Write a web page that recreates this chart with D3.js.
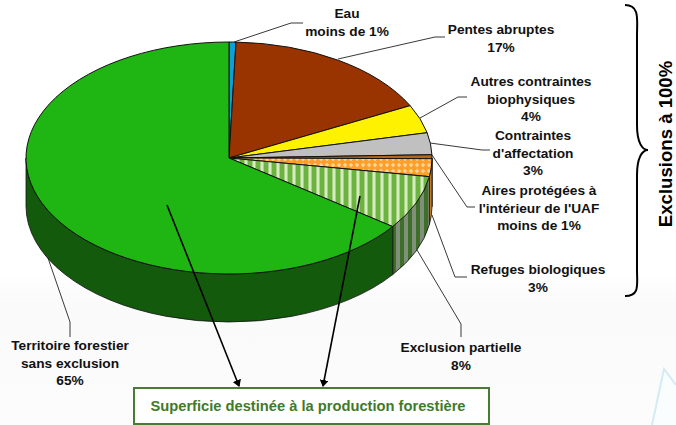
<!DOCTYPE html>
<html><head><meta charset="utf-8">
<script src="https://cdnjs.cloudflare.com/ajax/libs/d3/7.8.5/d3.min.js"></script>
<style>html,body{margin:0;padding:0;background:#fff}svg{display:block}text{font-family:"Liberation Sans",Arial,sans-serif;font-weight:700;fill:#111;font-size:13.7px;text-anchor:middle}</style>
</head><body><div id="c"></div>
<script>
const categories=["Eau","Pentes abruptes","Autres contraintes biophysiques","Contraintes d'affectation","Aires protégées à l'intérieur de l'UAF","Refuges biologiques","Exclusion partielle","Territoire forestier sans exclusion"];
const values=[0.55,17.0,3.95,3.05,0.55,2.47,7.5,64.93];
const fills=["#0f9ed5","#993300","#fff200","#c0c0c0","#b5651d","url(#cross)","url(#stripe)","#1fb512"];
const wallFills=["#0a6a8f","#5c1f00","#99910a","#737373","#7a4010","#c87a20","url(#stripeDark)","#135a0c"];
const labels=[
 {t:["Eau","moins de 1%"],x:347,y:18},
 {t:["Pentes abruptes","17%"],x:501,y:34},
 {t:["Autres contraintes","biophysiques","4%"],x:531,y:86},
 {t:["Contraintes","d'affectation","3%"],x:533,y:140},
 {t:["Aires protégées à","l'intérieur de l'UAF","moins de 1%"],x:539,y:195},
 {t:["Refuges biologiques","3%"],x:538,y:274},
 {t:["Exclusion partielle","8%"],x:461,y:352},
 {t:["Territoire forestier","sans exclusion","65%"],x:70,y:350}];
const leaders=[
 [[234,42],[291,23],[303,23]],
 [[338,59],[435,37],[445,37]],
 [[420,118],[458,97],[467,97]],
 [[430,143],[482,150],[490,150]],
 [[432,155],[467,207],[475,207]],
 [[432,215],[455,277],[467,277]],
 [[417,250],[461,324],[461,337]],
 [[48,258],[70,322],[70,337]]];
const W=676,H=425,cx=229,cy=158,rx=203,ry=116,depth=48;
const svg=d3.select("#c").append("svg").attr("width",W).attr("height",H);
const defs=svg.append("defs");
const bg=defs.append("linearGradient").attr("id","bg").attr("x1",0).attr("x2",0).attr("y1",0).attr("y2",1);
bg.append("stop").attr("offset",0).attr("stop-color","#ffffff");
bg.append("stop").attr("offset",.64).attr("stop-color","#ffffff");
bg.append("stop").attr("offset",.72).attr("stop-color","#fafafa");
bg.append("stop").attr("offset",1).attr("stop-color","#fcfcfc");
const st=defs.append("pattern").attr("id","stripe").attr("width",8).attr("height",8).attr("patternUnits","userSpaceOnUse");
st.append("rect").attr("width",8).attr("height",8).attr("fill","#d5ebc0");
st.append("rect").attr("width",4).attr("height",8).attr("fill","#6db33f");
st.append("rect").attr("x",4).attr("width",1).attr("height",8).attr("fill","#a6d284");
st.append("rect").attr("x",7).attr("width",1).attr("height",8).attr("fill","#a6d284");
const sd=defs.append("pattern").attr("id","stripeDark").attr("width",8).attr("height",8).attr("patternUnits","userSpaceOnUse");
sd.append("rect").attr("width",8).attr("height",8).attr("fill","#7f9078");
sd.append("rect").attr("width",4).attr("height",8).attr("fill","#3f6e2b");
const cr=defs.append("pattern").attr("id","cross").attr("width",6).attr("height",6).attr("patternUnits","userSpaceOnUse");
cr.append("rect").attr("width",6).attr("height",6).attr("fill","#ff9f2a");
cr.append("path").attr("d","M3 .8L5.2 3L3 5.2L.8 3Z").attr("fill","#ffd59a");
svg.append("rect").attr("width",W).attr("height",H).attr("fill","url(#bg)");
svg.append("path").attr("d",d3.line()([[652,425],[664,369],[676,385],[676,425]])).attr("fill","#f9fdfe");
svg.append("path").attr("d",d3.line()([[652,425],[664,369],[676,385]])).attr("fill","none").attr("stroke","#d3ebf3").attr("stroke-width",2);
const sx=d3.scaleLinear().domain([-1,1]).range([cx-rx,cx+rx]);
const sy=d3.scaleLinear().domain([-1,1]).range([cy-ry,cy+ry]);
const pt=a=>[sx(Math.sin(a)),sy(-Math.cos(a))];
const pie=d3.pie().sort(null).value(d=>d)(values);
const hp=Math.PI/2;
svg.append("g").selectAll("path").data(pie.filter(d=>d.endAngle>hp)).join("path")
 .attr("d",d=>{const a0=Math.max(d.startAngle,hp),a1=Math.min(d.endAngle,3*hp);
   if(a1<=a0)return null;
   const p0=pt(a0),p1=pt(a1);
   return `M${p0}A${rx},${ry} 0 0 1 ${p1}L${p1[0]},${p1[1]+depth}A${rx},${ry} 0 0 0 ${p0[0]},${p0[1]+depth}Z`;})
 .attr("fill",d=>wallFills[d.index]).attr("stroke","#111").attr("stroke-width",.8);
svg.append("g").selectAll("path").data(pie).join("path")
 .attr("d",d=>{const p0=pt(d.startAngle),p1=pt(d.endAngle),large=d.endAngle-d.startAngle>Math.PI?1:0;
   return `M${cx},${cy}L${p0}A${rx},${ry} 0 ${large} 1 ${p1}Z`;})
 .attr("fill",d=>fills[d.index]).attr("stroke","#111").attr("stroke-width",1);
const line=d3.line();
svg.append("g").selectAll("path").data(leaders).join("path").attr("d",line).attr("fill","none").attr("stroke","#222").attr("stroke-width",.9);
const lab=svg.append("g").selectAll("text").data(labels).join("text").attr("x",d=>d.x).attr("y",d=>d.y);
lab.selectAll("tspan").data(d=>d.t.map(s=>({s,x:d.x}))).join("tspan").attr("x",d=>d.x).attr("dy",(d,i)=>i?17.5:0).text(d=>d.s);
defs.append("marker").attr("id","arr").attr("markerWidth",7).attr("markerHeight",9).attr("refX",6).attr("refY",4.5).attr("orient","auto").attr("markerUnits","userSpaceOnUse")
 .append("path").attr("d","M0 0L7 4.5L0 9Z").attr("fill","#000");
svg.append("g").selectAll("path").data([[[167,205],[239,386]],[[360,196],[323,386]]]).join("path").attr("d",line).attr("fill","none").attr("stroke","#000").attr("stroke-width",1.6).attr("marker-end","url(#arr)");
svg.append("rect").attr("x",134).attr("y",388).attr("width",355).attr("height",36).attr("fill","#fff").attr("stroke","#4a7a33").attr("stroke-width",2);
svg.append("text").attr("x",308).attr("y",411).style("fill","#3f7a2a").style("font-size","14.7px").text("Superficie destinée à la production forestière");
svg.append("path").attr("d","M625 5C640 5 637 20 637 35L637 125C637 142 642 150 648 150C642 150 637 158 637 175L637 270C637 285 640 296 625 296").attr("fill","none").attr("stroke","#000").attr("stroke-width",2);
svg.append("text").attr("transform","translate(672,144) rotate(-90)").style("font-size","18.6px").style("fill","#000").text("Exclusions à 100%");
</script></body></html>
